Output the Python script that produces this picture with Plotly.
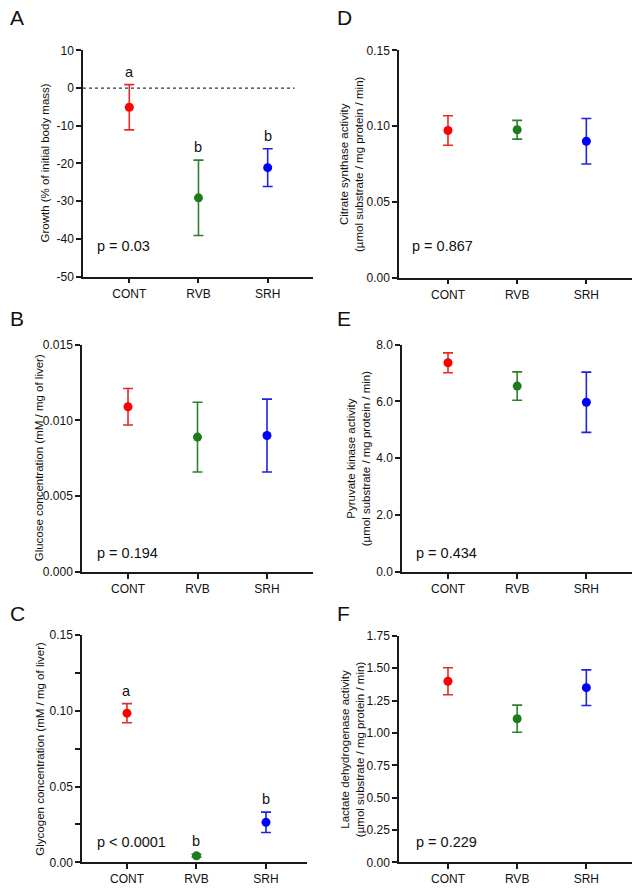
import plotly.graph_objects as go

# ---------------- data ----------------
groups = ["CONT", "RVB", "SRH"]

growth_mean = [-5.1, -29.1, -21.1]
growth_err = [6.0, 10.0, 5.0]
growth_letters = ["a", "b", "b"]
growth_p = "p = 0.03"

glucose_mean = [0.0109, 0.0089, 0.0090]
glucose_err = [0.0012, 0.0023, 0.0024]
glucose_p = "p = 0.194"

glycogen_mean = [0.0984, 0.0043, 0.0264]
glycogen_err = [0.0063, 0.0010, 0.0067]
glycogen_letters = ["a", "b", "b"]
glycogen_p = "p < 0.0001"

cs_mean = [0.0971, 0.0976, 0.0900]
cs_err = [0.0097, 0.0062, 0.0150]
cs_p = "p = 0.867"

pk_mean = [7.36, 6.54, 5.97]
pk_err = [0.35, 0.50, 1.06]
pk_p = "p = 0.434"

ldh_mean = [1.40, 1.11, 1.35]
ldh_err = [0.104, 0.105, 0.138]
ldh_p = "p = 0.229"

growth_ticks = [-50, -40, -30, -20, -10, 0, 10]
glucose_ticks = [0.000, 0.005, 0.010, 0.015]
glycogen_ticks = [0.00, 0.05, 0.10, 0.15]
cs_ticks = [0.00, 0.05, 0.10, 0.15]
pk_ticks = [0.0, 2.0, 4.0, 6.0, 8.0]
ldh_ticks = [0.00, 0.25, 0.50, 0.75, 1.00, 1.25, 1.50, 1.75]

colors = ["#ff0000", "#1c7c1c", "#0000ff"]
err_colors = ["#e42a2a", "#2f7f2f", "#2020e6"]

W, H = 634, 890
FONT = "Liberation Sans, Arial, sans-serif"
AX = "#1a1a1a"

panels = [
    dict(letter="A", mean=growth_mean, err=growth_err, letters=growth_letters, p=growth_p,
         ticks=growth_ticks, fmt="{:.0f}", yr=[-50, 10],
         title="Growth (% of initial body mass)",
         box=(83, 313, 44, 274), xr=[-0.669, 2.655], ttl_x=45, lab=(8, 11),
         px=(0.052, 0.135), minor=None, zero=True),
    dict(letter="B", mean=glucose_mean, err=glucose_err, letters=None, p=glucose_p,
         ticks=glucose_ticks, fmt="{:.3f}", yr=[0, 0.015],
         title="Glucose concentration (mM / mg of liver)",
         box=(82, 313, 343, 574), xr=[-0.662, 2.662], ttl_x=39, lab=(8, 316),
         px=(0.056, 0.082), minor=None, zero=False),
    dict(letter="C", mean=glycogen_mean, err=glycogen_err, letters=glycogen_letters, p=glycogen_p,
         ticks=glycogen_ticks, fmt="{:.2f}", yr=[0, 0.15],
         title="Glycogen concentration (mM / mg of liver)",
         box=(82, 307, 638, 869), xr=[-0.647, 2.59], ttl_x=40, lab=(8, 616),
         px=(0.058, 0.09), minor=0.025, zero=False),
    dict(letter="D", mean=cs_mean, err=cs_err, letters=None, p=cs_p,
         ticks=cs_ticks, fmt="{:.2f}", yr=[0, 0.15],
         title="Citrate synthase activity<br>(µmol substrate / mg protein / min)",
         box=(399, 632, 44, 275), xr=[-0.708, 2.66], ttl_x=352, lab=(335, 11),
         px=(0.046, 0.14), minor=None, zero=False),
    dict(letter="E", mean=pk_mean, err=pk_err, letters=None, p=pk_p,
         ticks=pk_ticks, fmt="{:.1f}", yr=[0, 8],
         title="Pyruvate kinase activity<br>(µmol substrate / mg protein / min)",
         box=(402, 632, 343, 574), xr=[-0.665, 2.66], ttl_x=358, lab=(335, 316),
         px=(0.051, 0.082), minor=None, zero=False),
    dict(letter="F", mean=ldh_mean, err=ldh_err, letters=None, p=ldh_p,
         ticks=ldh_ticks, fmt="{:.2f}", yr=[0, 1.75],
         title="Lactate dehydrogenase activity<br>(µmol substrate / mg protein / min)",
         box=(399, 632, 639, 869), xr=[-0.708, 2.66], ttl_x=352, lab=(335, 616),
         px=(0.063, 0.09), minor=None, zero=False),
]

fig = go.Figure()
annotations = []
shapes = []
layout = {}

for i, pn in enumerate(panels):
    n = i + 1
    xa = "x" if n == 1 else f"x{n}"
    ya = "y" if n == 1 else f"y{n}"
    xkey = "xaxis" if n == 1 else f"xaxis{n}"
    ykey = "yaxis" if n == 1 else f"yaxis{n}"
    x0, x1, y0, y1 = pn["box"]

    for g in range(3):
        fig.add_trace(go.Scatter(
            x=[groups[g]], y=[pn["mean"][g]], mode="markers",
            marker=dict(color=colors[g], size=9, line=dict(width=0)),
            error_y=dict(type="data", array=[pn["err"][g]], color=err_colors[g],
                         thickness=1.6, width=5),
            xaxis=xa, yaxis=ya, showlegend=False, cliponaxis=False,
        ))

    layout[xkey] = dict(
        domain=[x0 / W, x1 / W], anchor=ya, range=pn["xr"],
        type="category", categoryorder="array", categoryarray=groups,
        showline=True, linecolor=AX, linewidth=1.5, showgrid=False, zeroline=False,
        ticks="outside", ticklen=5, tickwidth=1.5, tickcolor=AX,
        tickfont=dict(family=FONT, size=12, color="#111"), fixedrange=True,
    )
    ydict = dict(
        domain=[1 - y1 / H, 1 - y0 / H], anchor=xa, range=pn["yr"],
        showline=True, linecolor=AX, linewidth=1.5, showgrid=False, zeroline=False,
        tickmode="array", tickvals=pn["ticks"],
        ticktext=[pn["fmt"].format(v) for v in pn["ticks"]],
        ticks="outside", ticklen=5, tickwidth=1.5, tickcolor=AX,
        tickfont=dict(family=FONT, size=12, color="#111"), fixedrange=True,
    )
    if pn["minor"]:
        ydict["minor"] = dict(dtick=pn["minor"], tick0=0, ticks="outside", ticklen=5,
                              tickwidth=1.5, tickcolor=AX, showgrid=False)
    layout[ykey] = ydict

    # panel letter
    annotations.append(dict(text=pn["letter"], x=pn["lab"][0] / W, y=1 - pn["lab"][1] / H,
                            xref="paper", yref="paper", xanchor="left", yanchor="middle",
                            showarrow=False, font=dict(family=FONT, size=21, color="#111")))
    # y title
    annotations.append(dict(text=pn["title"], x=pn["ttl_x"] / W, y=1 - ((y0 + y1) / 2) / H,
                            xref="paper", yref="paper", xanchor="center", yanchor="middle",
                            textangle=-90, showarrow=False,
                            font=dict(family=FONT, size=11.5, color="#111")))
    # p value
    annotations.append(dict(text=pn["p"], x=pn["px"][0], y=pn["px"][1],
                            xref=f"{xa} domain", yref=f"{ya} domain",
                            xanchor="left", yanchor="middle", showarrow=False,
                            font=dict(family=FONT, size=14.5, color="#111")))
    # significance letters
    if pn["letters"]:
        for g in range(3):
            annotations.append(dict(text=pn["letters"][g], x=groups[g],
                                    y=pn["mean"][g] + pn["err"][g], xref=xa, yref=ya,
                                    xanchor="center", yanchor="bottom", yshift=3,
                                    showarrow=False,
                                    font=dict(family=FONT, size=14.5, color="#111")))
    if pn["zero"]:
        shapes.append(dict(type="line", xref=f"{xa} domain", yref=ya, x0=0, x1=0.92,
                           y0=0, y1=0, line=dict(color="#333", width=1.3, dash="dot")))

fig.update_layout(
    width=W, height=H, margin=dict(l=0, r=0, t=0, b=0),
    paper_bgcolor="white", plot_bgcolor="white",
    annotations=annotations, shapes=shapes, showlegend=False,
    **layout,
)

fig.write_html(
    "out.html",
    config={"displayModeBar": False},
    post_script="document.body.style.margin='0';document.body.style.padding='0';"
                "document.body.style.overflow='hidden';",
)
